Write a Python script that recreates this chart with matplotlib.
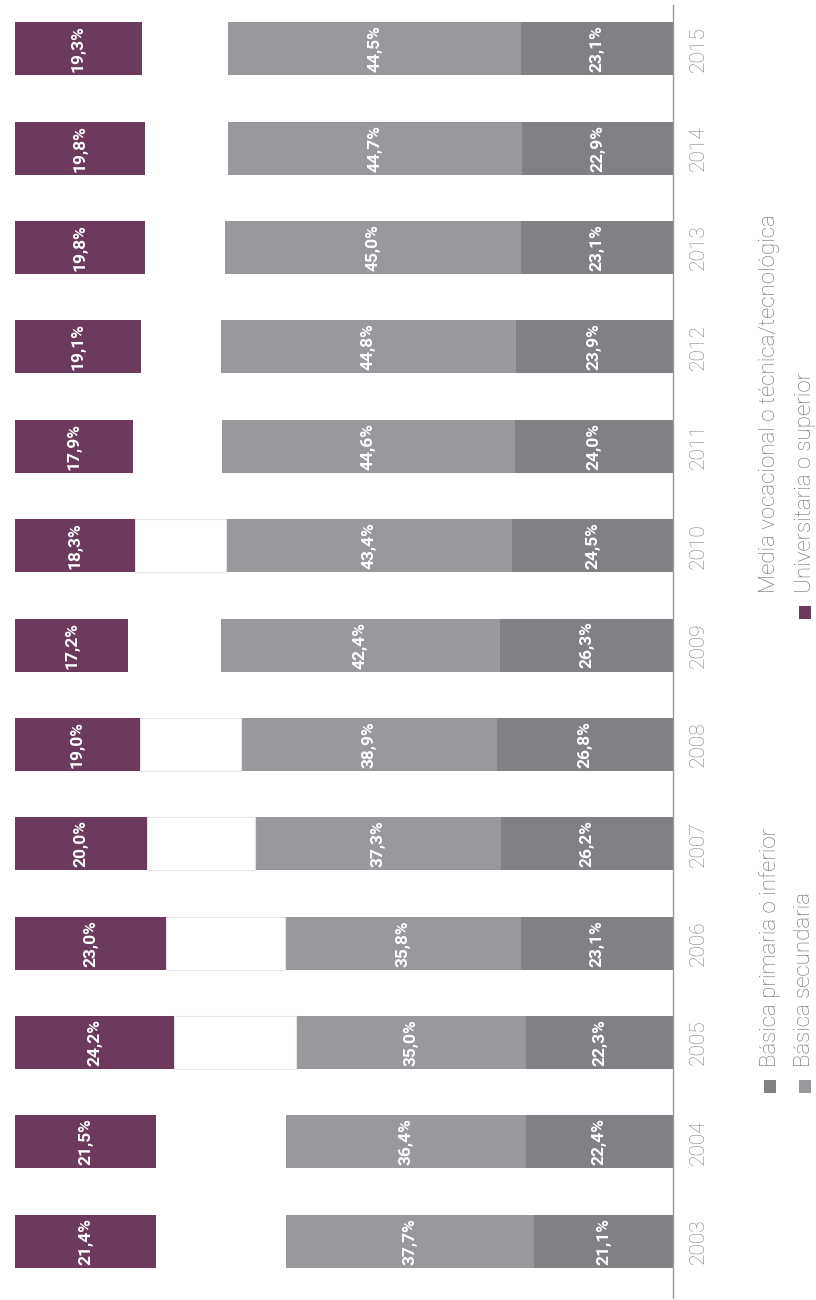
import matplotlib
matplotlib.use('Agg')
import matplotlib.pyplot as plt
from matplotlib.patches import Rectangle

years = [2003, 2004, 2005, 2006, 2007, 2008, 2009, 2010, 2011, 2012, 2013, 2014, 2015]

# share of each education level, in percent
primaria = [21.1, 22.4, 22.3, 23.1, 26.2, 26.8, 26.3, 24.5, 24.0, 23.9, 23.1, 22.9, 23.1]
secundaria = [37.7, 36.4, 35.0, 35.8, 37.3, 38.9, 42.4, 43.4, 44.6, 44.8, 45.0, 44.7, 44.5]
media = [19.8, 19.7, 18.5, 18.1, 16.5, 15.3, 14.1, 13.8, 13.5, 12.2, 12.1, 12.6, 13.1]
universitaria = [21.4, 21.5, 24.2, 23.0, 20.0, 19.0, 17.2, 18.3, 17.9, 19.1, 19.8, 19.8, 19.3]

# years where the white segment shows a faint outline
outlined = [2005, 2006, 2007, 2008, 2010]

names = ['Básica primaria o inferior', 'Básica secundaria',
         'Media vocacional o técnica/tecnológica', 'Universitaria o superior']
colors = ['#808185', '#98999d', '#ffffff', '#6d3a5e']
series = [primaria, secundaria, media, universitaria]
labelled = [True, True, False, True]

W, H = 816, 1300
fig = plt.figure(figsize=(W / 100, H / 100), dpi=100)
plt.rcParams['font.family'] = ['Roboto', 'DejaVu Sans']


def fx(px):
    return px / W


def fy(py):
    return 1 - py / H


ax = fig.add_axes([fx(15), fy(1298), fx(673) - fx(15), fy(5) - fy(1298)])

left = [0] * len(years)
for vals, col, lab in zip(series, colors, labelled):
    if col == '#ffffff':
        edges = ['#e9e3e7' if y in outlined else 'none' for y in years]
        bars = ax.barh(years, vals, left=left, height=0.533, color=col,
                       edgecolor=edges, linewidth=0.8)
    else:
        bars = ax.barh(years, vals, left=left, height=0.533, color=col, linewidth=0)
    if lab:
        ax.bar_label(bars, fmt=lambda v: f'{v:.1f}%'.replace('.', ','),
                     label_type='center', rotation=90, color='white',
                     fontsize=12.5, fontweight='bold')
    left = [l + v for l, v in zip(left, vals)]

ax.set_xlim(100, 0)
ax.set_ylim(2002.43, 2015.44)
ax.set_xticks([])
ax.yaxis.tick_right()
ax.set_yticks(years)
ax.set_yticklabels([str(y) for y in years], rotation=90, va='center',
                   fontsize=15, color='#7f7f7f', fontweight='light')
ax.tick_params(axis='y', length=0, pad=11)
for s in ['top', 'left', 'bottom']:
    ax.spines[s].set_visible(False)
ax.spines['right'].set_color('#9a9a9a')
ax.spines['right'].set_linewidth(1)

# legend, rotated like the rest of the chart
legend_pos = [(764, 1080), (799, 1080), (764, 606), (799, 606)]
for name, col, (sx, sy) in zip(names, colors, legend_pos):
    fig.patches.append(Rectangle((fx(sx), fy(sy + 13)), 12 / W, 13 / H,
                                 transform=fig.transFigure, color=col, lw=0))
    fig.text(fx(sx + 6), fy(sy - 13), name, rotation=90, ha='center', va='bottom',
             fontsize=16, color='#6d6e71', fontweight='light')

fig.savefig('out.png', dpi=100)
